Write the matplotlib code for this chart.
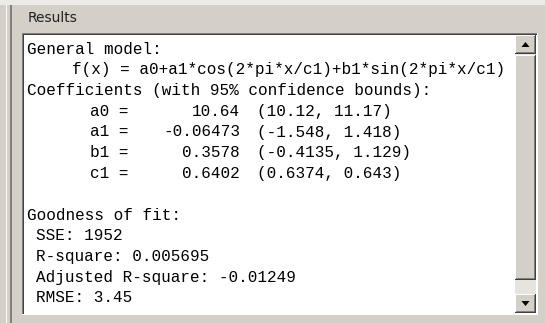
import matplotlib.pyplot as plt
from matplotlib.patches import Rectangle, Polygon

# fit results shown in the panel
model_expr = "f(x) = a0+a1*cos(2*pi*x/c1)+b1*sin(2*pi*x/c1)"
coef_names = ["a0", "a1", "b1", "c1"]
coef_values = ["10.64", "-0.06473", "0.3578", "0.6402"]
coef_bounds = ["(10.12, 11.17)", "(-1.548, 1.418)", "(-0.4135, 1.129)", "(0.6374, 0.643)"]
gof_names = ["SSE", "R-square", "Adjusted R-square", "RMSE"]
gof_values = ["1952", "0.005695", "-0.01249", "3.45"]

W, H = 545, 323
bg = "#d4d0c8"

fig = plt.figure(figsize=(W / 100, H / 100), dpi=100, facecolor=bg)
ax = fig.add_axes([0, 0, 1, 1])
ax.set_xlim(0, W)
ax.set_ylim(H, 0)
ax.axis("off")


def rect(x, y, w, h, color, z=1):
    ax.add_patch(Rectangle((x, y), w, h, facecolor=color, edgecolor="none", zorder=z))


def raised(x, y, w, h, z=3):
    # windows classic raised button
    rect(x, y, w, h, bg, z)
    rect(x, y, w, 1, "white", z + 0.1)
    rect(x, y, 1, h, "white", z + 0.1)
    rect(x, y + h - 1, w, 1, "#404040", z + 0.1)
    rect(x + w - 1, y, 1, h, "#404040", z + 0.1)
    rect(x + 1, y + h - 2, w - 2, 1, "#808080", z + 0.1)
    rect(x + w - 2, y + 1, 1, h - 2, "#808080", z + 0.1)


# panel chrome
rect(0, 0, W, 5, "#ecebe6")
rect(6, 5, 1, H, "white")
rect(10, 5, 2, H, "#808080")
ax.text(28, 18, "Results", fontsize=10, family="DejaVu Sans", va="center", ha="left", color="#222222")

# text box (sunken)
bx0, by0, bx1, by1 = 22, 33, 537, 314
rect(bx0, by0, bx1 - bx0, by1 - by0, "white", 2)
rect(bx0, by0, bx1 - bx0, 1, "#808080", 2.1)
rect(bx0, by0, 1, by1 - by0, "#808080", 2.1)
rect(bx0 + 1, by0 + 1, bx1 - bx0 - 1, 1, "#404040", 2.1)
rect(bx0 + 1, by0 + 1, 1, by1 - by0 - 1, "#404040", 2.1)
rect(bx0, by1, bx1 - bx0 + 1, 1, "white", 2.1)
rect(bx1, by0, 1, by1 - by0, "white", 2.1)

# scrollbar
sx, sw = 515, 21
rect(sx, 35, sw, 278, "#e6e4de", 2.5)
raised(sx, 35, sw, 19)
raised(sx, 55, sw, 225)
raised(sx, 294, sw, 19)
ax.add_patch(Polygon([[521.5, 47], [529.5, 47], [525.5, 42]], closed=True, facecolor="black", zorder=5))
ax.add_patch(Polygon([[521.5, 301], [529.5, 301], [525.5, 306]], closed=True, facecolor="black", zorder=5))

# text content
mono = dict(family="Liberation Mono", fontsize=11.5, va="center", color="black", zorder=6)
y0, dy = 49, 20.75
ax.text(27, y0, "General model:", ha="left", **mono)
ax.text(72, y0 + dy, model_expr, ha="left", **mono)
ax.text(27, y0 + 2 * dy, "Coefficients (with 95% confidence bounds):", ha="left", **mono)
for i, (n, v, b) in enumerate(zip(coef_names, coef_values, coef_bounds)):
    y = y0 + (3 + i) * dy
    ax.text(90, y, n + " =", ha="left", **mono)
    ax.text(240, y, v, ha="right", **mono)
    ax.text(257, y, b, ha="left", **mono)

ax.text(27, y0 + 8 * dy, "Goodness of fit:", ha="left", **mono)
for i, (n, v) in enumerate(zip(gof_names, gof_values)):
    ax.text(36, y0 + (9 + i) * dy, n + ": " + v, ha="left", **mono)

fig.savefig("out.png", dpi=100, facecolor=bg)
